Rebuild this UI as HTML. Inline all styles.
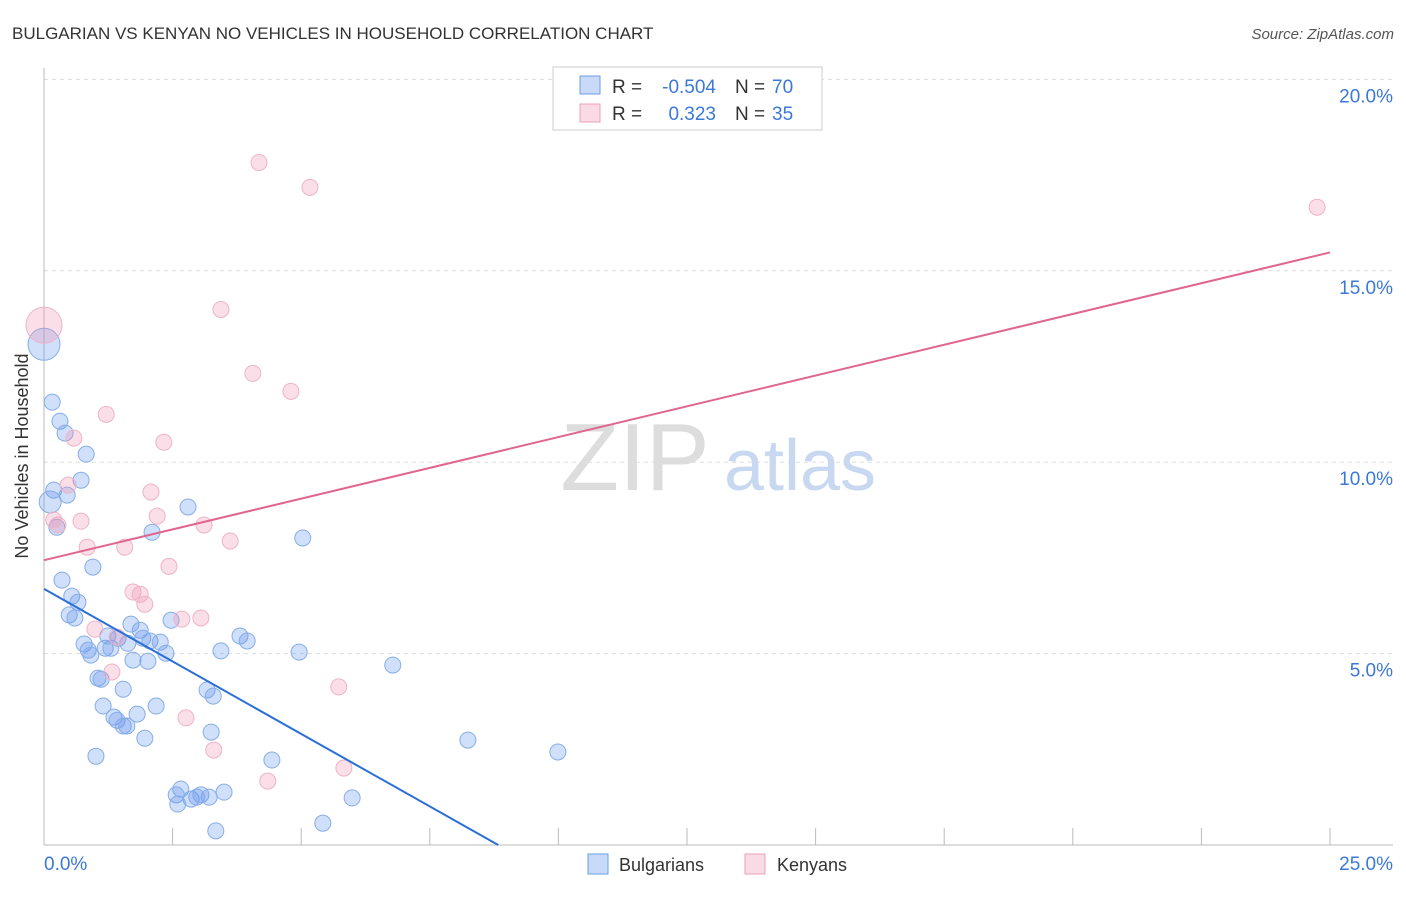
<!DOCTYPE html>
<html><head><meta charset="utf-8"><style>
body{margin:0;background:#fff;font-family:"Liberation Sans",sans-serif;}
svg text{font-family:"Liberation Sans",sans-serif;}
</style></head><body>
<svg width="1406" height="892" viewBox="0 0 1406 892" xmlns="http://www.w3.org/2000/svg">
<text x="12" y="39" font-size="17" fill="#333">BULGARIAN VS KENYAN NO VEHICLES IN HOUSEHOLD CORRELATION CHART</text>
<text x="1394" y="39" font-size="15" fill="#555" text-anchor="end" font-style="italic">Source: ZipAtlas.com</text>
<g id="grid"></g>
<text x="635" y="490" font-size="96" fill="#ddd" font-family="Liberation Serif" text-anchor="middle">ZIP</text>
<text x="800" y="490" font-size="72" fill="#c8d8f0" text-anchor="middle">atlas</text>
<g id="marks"></g>
<text x="28" y="456" font-size="18" fill="#333" text-anchor="middle" transform="rotate(-90 28 456)">No Vehicles in Household</text>
<g>
<rect x="553" y="67" width="269" height="63" fill="#fff" stroke="#ccc"/>
<rect x="580" y="76" width="20" height="18" fill="rgba(100,149,237,0.35)" stroke="#6a9fe0"/>
<text x="612" y="93" font-size="19" fill="#333">R =</text>
<text x="716" y="93" font-size="19" fill="#3b78d8" text-anchor="end">-0.504</text>
<text x="735" y="93" font-size="19" fill="#333">N =</text>
<text x="772" y="93" font-size="19" fill="#3b78d8">70</text>
<rect x="580" y="104" width="20" height="18" fill="rgba(240,150,180,0.35)" stroke="#eaa0b8"/>
<text x="612" y="120" font-size="19" fill="#333">R =</text>
<text x="716" y="120" font-size="19" fill="#3b78d8" text-anchor="end">0.323</text>
<text x="735" y="120" font-size="19" fill="#333">N =</text>
<text x="772" y="120" font-size="19" fill="#3b78d8">35</text>
</g>
<g>
<rect x="588" y="854" width="20" height="20" fill="rgba(100,149,237,0.35)" stroke="#6a9fe0"/>
<text x="619" y="871" font-size="18" fill="#333">Bulgarians</text>
<rect x="745" y="854" width="20" height="20" fill="rgba(240,150,180,0.35)" stroke="#eaa0b8"/>
<text x="777" y="871" font-size="18" fill="#333">Kenyans</text>
</g>
</svg>
<script>
const xTicks=[0,2.5,5,7.5,10,12.5,15,17.5,20,22.5,25];
const yTicks=[5,10,15,20];
const yTickLabels=["5.0%","10.0%","15.0%","20.0%"];
const blueX=[0,0.16,0.31,0.41,0.82,0.72,0.19,0.45,0.12,0.25,2.80,2.10,5.03,0.95,0.35,0.54,0.66,0.49,0.60,0.78,0.86,0.91,1.19,1.30,1.24,1.44,1.63,1.69,1.87,1.92,2.06,2.26,2.47,2.37,2.02,1.73,3.44,3.81,3.95,4.96,6.78,1.05,1.11,1.54,3.17,3.29,1.15,2.18,1.81,1.36,1.42,1.54,1.61,1.96,3.25,1.01,4.43,8.24,9.99,2.66,2.57,2.86,3.05,3.21,3.50,2.60,5.99,5.42,3.34,2.97];
const blueY=[13.08,11.57,11.07,10.76,10.21,9.53,9.27,9.14,8.96,8.30,8.83,8.17,8.02,7.26,6.92,6.50,6.34,6.01,5.93,5.25,5.09,4.96,5.14,5.14,5.46,5.40,5.27,5.77,5.61,5.40,5.33,5.30,5.87,5.01,4.80,4.83,5.07,5.46,5.33,5.04,4.70,4.36,4.33,4.07,4.05,3.89,3.63,3.63,3.42,3.34,3.26,3.11,3.11,2.79,2.95,2.32,2.22,2.74,2.43,1.46,1.31,1.20,1.31,1.25,1.38,1.07,1.23,0.57,0.37,1.25];
const pinkX=[0,4.18,5.17,24.75,3.44,4.06,4.80,1.21,0.58,2.33,0.47,2.08,2.20,0.72,0.27,3.11,3.62,0.84,1.57,2.43,1.73,1.87,1.96,2.68,3.05,0.99,1.42,1.32,2.76,3.30,5.73,5.83,4.35,0.19];
const pinkY=[13.58,17.83,17.18,16.66,13.99,12.32,11.85,11.25,10.63,10.52,9.40,9.22,8.59,8.46,8.36,8.36,7.94,7.78,7.78,7.28,6.61,6.55,6.29,5.90,5.93,5.64,5.43,4.52,3.32,2.48,4.13,2.01,1.67,8.49];
const blueBig=[0,8];
const pinkBig=[0];
const blueLine=[[0,6.69],[8.83,0]];
const pinkLine=[[0,7.44],[25,15.48]];
const X=v=>44+v*51.44, Y=v=>845-v*38.28;
const NS="http://www.w3.org/2000/svg";
const grid=document.getElementById('grid'), marks=document.getElementById('marks');
function mk(tag,attrs,parent){const e=document.createElementNS(NS,tag);for(const k in attrs)e.setAttribute(k,attrs[k]);parent.appendChild(e);return e;}
yTicks.forEach((t,i)=>{
 const l=mk('line',{x1:44,x2:1393,y1:Y(t),y2:Y(t),stroke:'#ddd','stroke-dasharray':'4,4'},grid);
 
 
 const tx=mk('text',{x:1393,y:Y(t)+23,'font-size':19,fill:'#3b78d8','text-anchor':'end'},grid);
 tx.textContent=yTickLabels[i];
 
 
});
const ax=mk('line',{x1:44,x2:44,y1:68,y2:845,stroke:'#bbb'},grid);


const bx=mk('line',{x1:44,x2:1393,y1:845,y2:845,stroke:'#bbb'},grid);


xTicks.forEach(t=>{
 const l=mk('line',{x1:X(t),x2:X(t),y1:828,y2:845,stroke:'#bbb'},grid);
 
 
});
[[0,"0.0%","start",44],[25,"25.0%","end",1393]].forEach(a=>{
 const tx=mk('text',{x:a[3],y:870,'font-size':19,fill:'#3b78d8','text-anchor':a[2]},grid);
 tx.textContent=a[1];
 
 
});
blueX.forEach((v,i)=>{
 const c=mk('circle',{cx:X(v),cy:Y(blueY[i]),r:blueBig.includes(i)?(i===0?16:11):8,fill:'rgba(100,149,237,0.3)',stroke:'#86aee6','stroke-width':1},marks);
 
 
});
pinkX.forEach((v,i)=>{
 const c=mk('circle',{cx:X(v),cy:Y(pinkY[i]),r:pinkBig.includes(i)?18:8,fill:'rgba(240,150,180,0.3)',stroke:'#efb3c7','stroke-width':1},marks);
 
 
});
const bl=mk('line',{x1:X(blueLine[0][0]),y1:Y(blueLine[0][1]),x2:X(blueLine[1][0]),y2:Y(blueLine[1][1]),stroke:'#2a6fd8','stroke-width':2},marks);


const pl=mk('line',{x1:X(pinkLine[0][0]),y1:Y(pinkLine[0][1]),x2:X(pinkLine[1][0]),y2:Y(pinkLine[1][1]),stroke:'#e0658f','stroke-width':2},marks);


</script>
</body></html>
